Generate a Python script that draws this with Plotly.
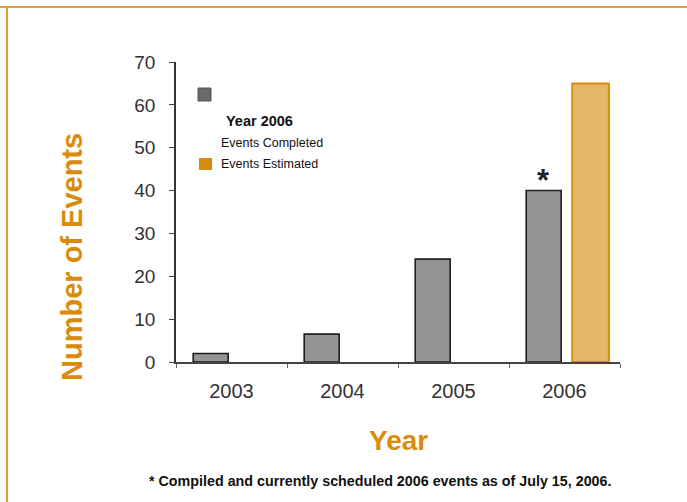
import plotly.graph_objects as go

# Event counts by year
years = ["2003", "2004", "2005", "2006"]
completed = [2, 6.5, 24, 40]
estimated_years = ["2006"]
estimated = [65]

y_ticks = [0, 10, 20, 30, 40, 50, 60, 70]

ORANGE = "#D98C0B"
ORANGE_FILL = "#E4B866"
SANS = "Liberation Sans, Arial, Helvetica, sans-serif"

fig = go.Figure()

fig.add_trace(go.Bar(
    x=years, y=completed, name="Events Completed",
    width=0.315, offset=-0.345,
    marker=dict(color="#959595", line=dict(color="#1e1e1e", width=1.6)),
))
fig.add_trace(go.Bar(
    x=estimated_years, y=estimated, name="Events Estimated",
    width=0.33, offset=0.07,
    marker=dict(color=ORANGE_FILL, line=dict(color=ORANGE, width=2)),
))

# asterisk over the completed 2006 bar (category index on the x axis)
i2006 = years.index("2006")
fig.add_annotation(
    x=i2006, y=completed[i2006], xref="x", yref="y", text="<b>*</b>",
    showarrow=False, xanchor="center", yanchor="middle", xshift=-21, yshift=10,
    font=dict(family=SANS, size=31, color="#222"),
)

W, H = 687, 502
L, R, T, B = 176, 67, 62, 140
pw, ph = W - L - R, H - T - B

def px(x):
    return (x - L) / pw

def py(y):
    return (H - B - y) / ph

def label(x, y, text, size, color="#111", angle=0, xanchor="left"):
    fig.add_annotation(x=px(x), y=py(y), xref="paper", yref="paper",
                       text=text, showarrow=False, textangle=angle,
                       xanchor=xanchor, yanchor="middle",
                       font=dict(family=SANS, size=size, color=color))

# legend block
fig.add_shape(type="rect", xref="paper", yref="paper",
              x0=px(198), x1=px(211), y0=py(101), y1=py(88),
              fillcolor="#6a6a6a", line=dict(color="#555", width=1))
fig.add_shape(type="rect", xref="paper", yref="paper",
              x0=px(199), x1=px(212), y0=py(170), y1=py(158),
              fillcolor=ORANGE, line=dict(width=0))
label(224, 121, "<b>Year 2006</b>", 14.5)
label(219, 143, "Events Completed", 12.5)
label(219, 164, "Events Estimated", 12.5)

# axis titles and footnote
label(72, 257, "<b>Number of Events</b>", 29, color=ORANGE, angle=-90, xanchor="center")
label(398, 441, "<b>Year</b>", 28, color=ORANGE, xanchor="center")
label(380, 481, "<b>* Compiled and currently scheduled 2006 events as of July 15, 2006.</b>",
      14.3, xanchor="center")

# frame lines
fig.add_shape(type="line", xref="paper", yref="paper",
              x0=px(0), x1=px(W), y0=py(7), y1=py(7),
              line=dict(color="#E0A032", width=2))
fig.add_shape(type="line", xref="paper", yref="paper",
              x0=px(7), x1=px(7), y0=py(7), y1=py(H),
              line=dict(color="#E0A032", width=2))

fig.update_layout(
    width=W, height=H,
    margin=dict(l=L, r=R, t=T, b=B, pad=0),
    paper_bgcolor="white", plot_bgcolor="white",
    showlegend=False, barmode="overlay",
    xaxis=dict(
        type="category", range=[-0.5, 3.5],
        showline=True, linecolor="#444", linewidth=1.5,
        ticks="outside", tickson="boundaries", ticklen=4, tickcolor="#666",
        ticklabelstandoff=10,
        showgrid=False, zeroline=False,
        tickfont=dict(family=SANS, size=20, color="#333"),
    ),
    yaxis=dict(
        range=[0, 70], tickvals=y_ticks,
        showline=True, linecolor="#333", linewidth=1.5,
        ticks="outside", ticklen=5, tickcolor="#444",
        ticklabelstandoff=10,
        showgrid=False, zeroline=False,
        tickfont=dict(family=SANS, size=19, color="#333"),
    ),
)

fig.write_html("out.html")
